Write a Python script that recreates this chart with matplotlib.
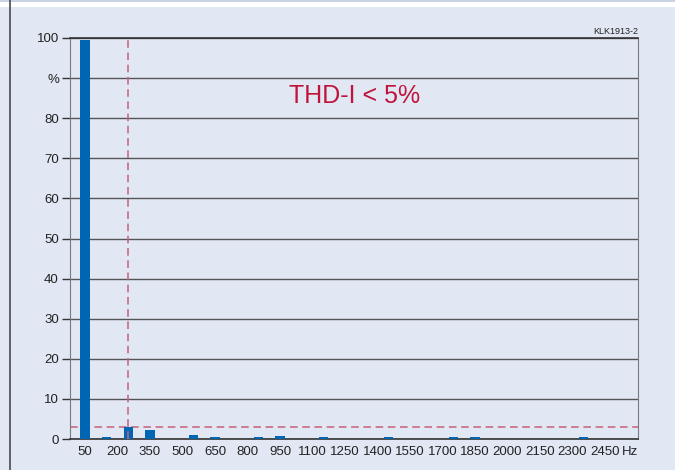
import matplotlib.pyplot as plt
from matplotlib.patches import Rectangle
from matplotlib.lines import Line2D

plt.rcParams['font.family'] = ['Liberation Sans', 'DejaVu Sans']

# harmonic spectrum of the current, in % of the fundamental
freqs = [50, 150, 250, 350, 550, 650, 850, 950, 1150, 1450, 1750, 1850, 2350]
levels = [99.5, 0.6, 3.1, 2.3, 1.1, 0.45, 0.4, 0.8, 0.4, 0.4, 0.4, 0.4, 0.4]
xtick_vals = list(range(50, 2451, 150))
xtick_labels = [str(v) for v in xtick_vals]
ytick_vals = list(range(0, 101, 10))
ytick_labels = ['0', '10', '20', '30', '40', '50', '60', '70', '80', '%', '100']
limit_pct = 3
limit_freq = 250

bg = '#e1e7f3'
fig = plt.figure(figsize=(6.75, 4.7), dpi=100, facecolor=bg)

# white strip on top and the frame line on the left
fig.patches.append(Rectangle((0, 1 - 7 / 470), 1, 7 / 470, transform=fig.transFigure,
                             facecolor='white', edgecolor='none', zorder=0))
fig.patches.append(Rectangle((0, 1 - 2 / 470), 1, 2 / 470, transform=fig.transFigure,
                             facecolor='#c9d3e6', edgecolor='none', zorder=1))
fig.lines.append(Line2D([10 / 675, 10 / 675], [0, 1], transform=fig.transFigure,
                        color='#555555', lw=1.3))

ax = fig.add_axes([70 / 675, 1 - 439 / 470, 568 / 675, 401 / 470])
ax.set_facecolor(bg)

ax.bar(freqs, levels, width=42, color='#0066b3', zorder=3)

ax.axhline(limit_pct, color='#c8607a', lw=1.1, ls=(0, (5, 3)), zorder=2)
ax.plot([limit_freq, limit_freq], [0, 100], color='#c8607a', lw=1.1,
        ls=(0, (5, 3)), zorder=4)

ax.set_xlim(-19, 2602)
ax.set_ylim(0, 100)
# unit shown as the last label on the frequency axis
ax.set_xticks(xtick_vals + [2567])
ax.set_xticklabels(xtick_labels + ['Hz'], fontsize=9.5, color='#222222')
ax.tick_params(axis='x', length=0, pad=5)
ax.set_yticks(ytick_vals)
ax.set_yticklabels(ytick_labels, fontsize=9.5, color='#222222')
ax.tick_params(axis='y', length=6, width=1, color='#333333', pad=2)
ax.grid(axis='y', color='#555555', lw=1, zorder=1)

for side in ['left', 'right']:
    ax.spines[side].set_color('#7a7a7a')
for side in ['top', 'bottom']:
    ax.spines[side].set_color('#333333')
    ax.spines[side].set_linewidth(1.2)

ax.text(1, 1.005, 'KLK1913-2', transform=ax.transAxes, fontsize=6.5,
        color='#222222', ha='right', va='bottom')
ax.text(0.385, 0.855, 'THD-I < 5%', transform=ax.transAxes, fontsize=18,
        color='#c0143c', ha='left', va='center')

fig.savefig('out.png', dpi=100, facecolor=bg)
